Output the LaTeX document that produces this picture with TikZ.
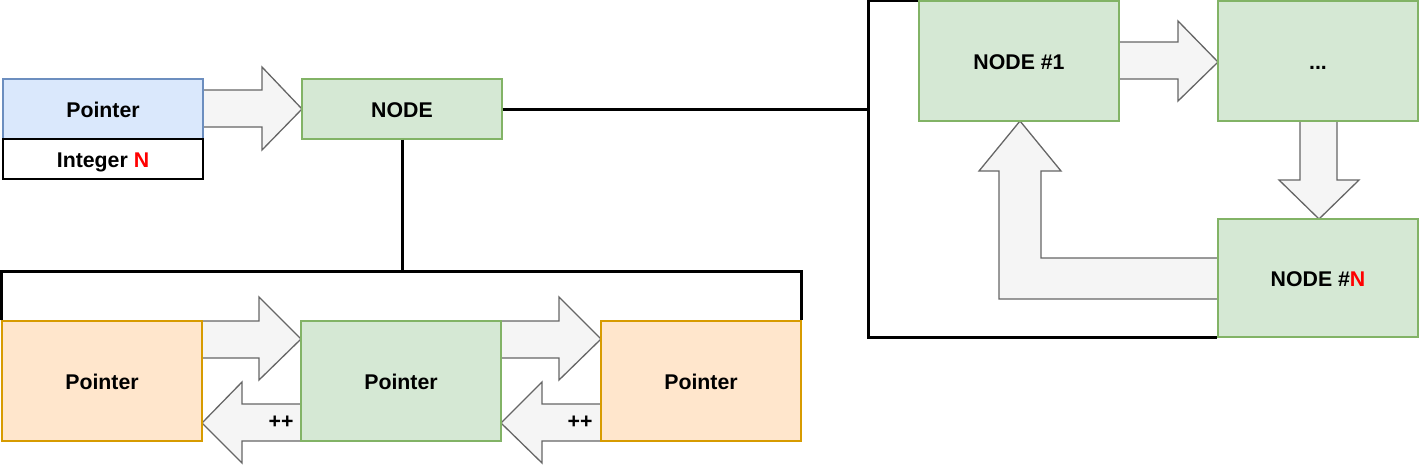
\documentclass[tikz,border=0pt]{standalone}
\usepackage{fontspec}
\setmainfont{Liberation Sans}
\usetikzlibrary{calc}
\definecolor{bluefill}{HTML}{DAE8FC}
\definecolor{bluedraw}{HTML}{6C8EBF}
\definecolor{greenfill}{HTML}{D5E8D4}
\definecolor{greendraw}{HTML}{82B366}
\definecolor{orangefill}{HTML}{FFE6CC}
\definecolor{orangedraw}{HTML}{D79B00}
\definecolor{arrowfill}{HTML}{F5F5F5}
\definecolor{arrowdraw}{HTML}{666666}
\definecolor{redN}{HTML}{FF0000}
\tikzset{
  box/.style={rectangle, line width=1.3pt, inner sep=0pt, text height=17pt, text depth=0pt, font=\fontsize{21.3}{25}\selectfont\bfseries, text=black},
  bluebox/.style={box, fill=bluefill, draw=bluedraw, minimum width=200pt, minimum height=60pt},
  plainbox/.style={box, fill=white, draw=black, minimum width=200pt, minimum height=40pt},
  greensmall/.style={box, fill=greenfill, draw=greendraw, minimum width=200pt, minimum height=60pt},
  greenbig/.style={box, fill=greenfill, draw=greendraw, minimum width=200pt, minimum height=120pt},
  orangebig/.style={box, fill=orangefill, draw=orangedraw, minimum width=200pt, minimum height=120pt},
  blockarrow/.style={fill=arrowfill, draw=arrowdraw, line width=1.3pt, line join=miter},
  conn/.style={draw=black, line width=3pt},
  pluslabel/.style={font=\fontsize{21.3}{25}\selectfont\bfseries, inner sep=0pt}
}
\begin{document}
\begin{tikzpicture}[x=1pt,y=-1pt]
\useasboundingbox (0,0) rectangle (1420,464);

% block arrows
\draw[blockarrow] (203,90)--(262,90)--(262,67)--(302,109)--(262,150)--(262,127)--(203,127)--cycle;
\draw[blockarrow] (202,321)--(259,321)--(259,297)--(301,339)--(259,380)--(259,358)--(202,358)--cycle;
\draw[blockarrow] (301,404)--(242,404)--(242,382)--(202,423)--(242,463)--(242,441)--(301,441)--cycle;
\draw[blockarrow] (501,321)--(559,321)--(559,297)--(601,339)--(559,380)--(559,358)--(501,358)--cycle;
\draw[blockarrow] (601,404)--(542,404)--(542,382)--(501,423)--(542,463)--(542,441)--(601,441)--cycle;
\draw[blockarrow] (1119,42)--(1178,42)--(1178,21)--(1218,62)--(1178,101)--(1178,79)--(1119,79)--cycle;
\draw[blockarrow] (1300,121)--(1300,180)--(1279,180)--(1319,219)--(1359,180)--(1337,180)--(1337,121)--cycle;
\draw[blockarrow] (1218,258)--(1041,258)--(1041,171)--(1061,171)--(1020,121)--(979,171)--(999,171)--(999,299)--(1218,299)--cycle;

% nodes
\node[bluebox] (ptr) at (103,109) {Pointer};
\node[plainbox] (int) at (103,159) {Integer \textcolor{redN}{N}};
\node[greensmall] (node) at (402,109) {NODE};

\node[orangebig] (p1) at (102,381) {Pointer};
\node[greenbig] (p2) at (401,381) {Pointer};
\node[orangebig] (p3) at (701,381) {Pointer};

\node[pluslabel] (pl1) at (281,422) {++};
\node[pluslabel] (pl2) at (580,422) {++};

\node[greenbig] (n1) at (1019,61) {NODE \#1};
\node[greenbig] (dots) at (1318,61) {...};
\node[greenbig, minimum height=118pt] (nN) at (1318,278) {NODE \#\textcolor{redN}{N}};

% connectors
\coordinate (bt) at (402,271);
\coordinate (rb) at (868,109);
\draw[conn] (node.south) -- (bt);
\draw[conn] (p1.north west) |- (bt) -| (p3.north east);
\draw[conn] (node.east) -- (rb);
\draw[conn] (n1.north west) -| (rb) |- (nN.south west);
\end{tikzpicture}
\end{document}
